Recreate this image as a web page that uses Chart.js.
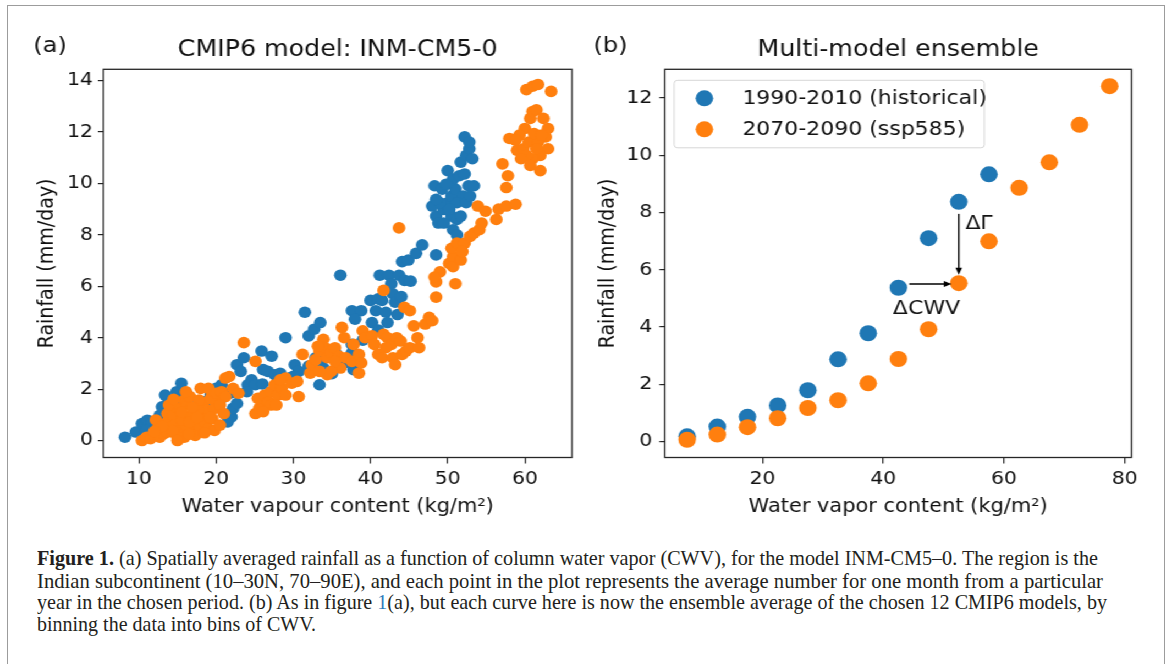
<!DOCTYPE html>
<html>
<head>
<meta charset="utf-8">
<script src="https://cdn.jsdelivr.net/npm/chart.js@4.4.0/dist/chart.umd.min.js"></script>
<style>
  html, body { margin: 0; padding: 0; background: #fff; }
  body { width: 1171px; height: 664px; position: relative; overflow: hidden; }
  #frame { position: absolute; left: 7px; top: 5px; width: 1158px; height: 690px;
           border: 1.5px solid #9c9c9c; box-sizing: border-box; }
  /* the original figure is a little wider than tall, so stretch both panels */
  #stretch { position: absolute; left: 0; top: 0; width: 1064px; height: 530px;
             transform: scaleX(1.1); transform-origin: 0 0; }
  .panel { position: absolute; top: 0; width: 532px; height: 530px; }
  #panelA { left: 0; }
  #panelB { left: 532px; }
  .cap { position: absolute; left: 37px; font-family: "Liberation Serif", serif; font-size: 21px;
         line-height: 21px; white-space: nowrap; color: #231f20; transform-origin: 0 0; }
  .lnk { color: #2b7bbb; }
</style>
</head>
<body>
<div id="frame"></div>
<div id="stretch">
  <div class="panel" id="panelA"><canvas id="chartA"></canvas></div>
  <div class="panel" id="panelB"><canvas id="chartB"></canvas></div>
</div>
<div class="cap" style="top:548.4px" data-end="1098"><b>Figure 1.</b> (a) Spatially averaged rainfall as a function of column water vapor (CWV), for the model INM-CM5–0. The region is the</div>
<div class="cap" style="top:570.7px" data-end="1103">Indian subcontinent (10–30N, 70–90E), and each point in the plot represents the average number for one month from a particular</div>
<div class="cap" style="top:592.4px" data-end="1107">year in the chosen period. (b) As in figure <span class="lnk">1</span>(a), but each curve here is now the ensemble average of the chosen 12 CMIP6 models, by</div>
<div class="cap" style="top:614.1px" data-end="316">binning the data into bins of CWV.</div>

<script>
// Panel (a): INM-CM5-0 monthly points [CWV, rainfall]
const histMonthly = [
  [8.2,0.13],[9.6,0.33],[10.4,0.66],[11.1,0.79],[11.7,0.72],[11.0,0.39],[12.4,0.59],[12.7,0.98],
  [13.0,1.31],[13.4,1.77],[13.7,1.44],[14.1,1.18],[14.9,1.90],[15.5,2.23],[15.9,1.84],[16.3,1.77],
  [14.9,1.38],[14.4,0.72],[17.6,1.38],[18.5,1.51],[19.3,1.77],[20.0,2.03],[20.7,2.17],[21.5,0.72],
  [22.0,0.92],[22.2,1.25],[22.7,1.44],[21.8,1.84],[22.7,2.95],[23.6,3.22],[23.2,2.69],[24.1,2.17],
  [24.6,2.36],[25.1,2.17],[25.9,3.48],[26.1,2.76],[26.7,2.69],[27.2,3.28],[27.6,2.56],[28.3,2.62],
  [29.0,4.00],[29.5,2.43],[30.2,2.95],[30.7,2.69],[31.5,4.99],[32.0,4.07],[32.7,4.33],[33.5,4.59],
  [33.4,2.17],[32.9,3.22],[33.9,2.82],[36.1,6.43],[37.6,3.74],[37.6,3.41],[37.8,2.76],[37.6,5.05],
  [38.8,5.05],[38.0,4.72],[40.0,5.45],[41.0,5.51],[40.2,4.59],[40.7,5.05],[41.2,6.43],[42.4,6.43],
  [43.7,6.43],[44.4,6.23],[42.0,4.99],[42.2,4.59],[42.9,5.71],[43.2,5.38],[42.7,6.10],[41.5,5.45],
  [44.1,6.96],[44.9,7.02],[45.9,7.28],[46.7,7.61],[48.5,7.22],[48.3,9.91],[48.0,9.12],[48.5,8.73],
  [48.8,8.46],[49.5,8.99],[50.0,9.25],[50.5,9.51],[51.0,9.78],[50.0,10.5],[50.7,10.17],[51.5,10.30],
  [52.2,10.37],[52.7,9.91],[53.4,9.91],[52.0,9.51],[51.2,9.25],[50.5,8.73],[51.2,8.60],[49.3,9.78],
  [49.8,9.97],[49.0,9.25],[50.2,8.99],[51.7,8.73],[52.4,9.25],[52.9,9.51],[50.7,8.2],[49.5,8.46],
  [48.5,9.38],[51.2,8.00],[51.7,10.83],[52.4,11.09],[52.8,11.35],[52.2,11.81],[52.8,11.61],[53.2,10.96],
  [13.0,0.3],[14.0,0.5],[15.2,0.9],[16.0,0.6],[17.0,0.8],[18.0,1.0],[19.0,1.2],[20.3,1.5],
  [21.0,1.7],[24.0,1.9],[26.0,2.2],[28.0,2.3],[30.0,2.5],[32.0,2.9],[34.0,3.2],[35.5,3.4],
  [39.0,3.9],[41.0,4.3],[43.5,4.9],[44.0,5.6],[45.2,6.2],[35.0,2.6],[36.5,3.0]
];
const sspMonthly = [
  [10.4,0.0],[11.0,0.13],[11.5,0.07],[12.0,0.2],[12.7,0.13],[13.2,0.26],[13.7,0.33],[12.4,0.46],
  [13.4,0.66],[13.9,0.85],[13.7,1.05],[14.4,0.98],[14.6,0.59],[14.9,0.2],[15.4,0.39],[15.9,0.13],
  [16.1,0.59],[15.6,0.79],[15.1,1.25],[15.9,1.57],[16.3,1.38],[16.8,0.98],[17.1,0.39],[17.3,0.2],
  [17.8,0.59],[18.0,0.98],[18.3,1.38],[18.8,1.18],[18.5,0.72],[19.0,0.46],[19.5,0.85],[19.8,1.25],
  [20.2,1.64],[19.3,1.64],[18.0,2.03],[19.0,2.03],[20.0,1.84],[20.7,1.90],[21.2,2.43],[21.7,2.49],
  [22.2,2.03],[22.9,1.84],[21.2,1.71],[20.5,1.38],[21.0,1.05],[19.8,0.39],[13.9,1.38],[14.4,0.39],
  [16.6,0.72],[17.6,1.18],[16.6,1.71],[16.1,1.90],[17.8,1.57],[23.6,3.81],[25.1,3.08],
  [12.2,0.8],[13.0,0.55],[15.0,0.0],[16.5,0.25],[17.5,0.9],[18.5,0.3],[19.2,0.9],[20.5,0.6],
  [14.5,1.6],[16.9,1.3],[15.5,1.1],[12.0,0.35],
  [25.1,1.05],[25.6,1.25],[25.9,1.51],[25.4,1.64],[26.3,1.77],[26.8,1.51],[27.1,1.9],[27.6,2.17],
  [28.0,1.77],[28.5,2.03],[29.0,2.43],[29.8,2.23],[30.5,2.30],[30.7,1.71],[27.1,1.38],[26.1,1.12],
  [27.8,1.38],[29.0,1.77],[28.3,2.36],[31.2,3.35],
  [32.2,2.62],[32.4,2.95],[32.9,3.15],[33.4,3.48],[33.9,3.94],[34.1,3.61],[34.4,3.22],[34.9,3.41],
  [35.4,3.61],[35.9,3.28],[36.3,4.40],[36.6,4.0],[36.1,2.82],[34.9,2.69],[34.4,2.56],[33.4,2.69],
  [36.8,3.22],[37.6,3.08],[38.5,3.35],[38.5,2.62],[38.8,3.02],[39.0,4.27],[39.3,4.0],[37.8,3.74],
  [35.4,3.08],[33.2,3.67],
  [40.2,4.07],[40.5,3.74],[41.0,3.35],[41.5,3.22],[41.7,4.13],[42.2,4.0],[42.7,3.74],[42.9,3.22],
  [43.2,2.95],[43.4,4.0],[43.9,3.87],[44.1,3.35],[44.6,3.48],[45.1,3.61],[44.4,5.18],[45.1,5.05],
  [45.6,4.46],[46.1,4.0],[46.3,3.61],[47.1,4.53],[47.6,4.79],[48.0,4.66],[41.7,5.84],[43.7,8.27],
  [42.0,3.61],
  [48.5,5.58],[48.5,6.17],[49.0,6.56],[48.3,6.36],[50.2,6.89],[50.7,7.15],[50.5,7.48],[51.2,7.68],
  [51.0,6.10],[50.7,6.76],[51.7,7.02],[52.2,7.68],[52.9,7.94],[53.4,8.07],[54.1,8.20],[54.4,8.46],
  [53.9,9.12],[54.9,8.92],[51.9,7.35],[56.3,8.6],[56.6,9.0],[57.6,9.12],[58.8,9.19],
  [57.1,10.76],[57.8,10.3],[57.6,9.84],[58.0,11.75],[59.0,11.29],[59.8,11.35],[60.0,12.14],[60.7,12.53],
  [61.0,12.8],[61.5,12.86],[60.2,13.65],[61.0,13.78],[61.7,13.85],[63.4,13.58],[62.4,12.53],[62.7,11.81],
  [63.0,11.35],[62.0,11.09],[61.0,10.96],[60.2,11.09],[59.5,10.96],[60.7,10.70],[62.0,10.50],[60.5,11.61],
  [61.7,11.61],[61.2,11.94],[59.3,11.88],[63.0,12.14],[58.8,11.68],[62.2,11.88],[61.5,11.35]
];

// Panel (b): multi-model ensemble, binned by CWV
const histBins = [7.5, 12.5, 17.5, 22.5, 27.5, 32.5, 37.5, 42.5, 47.5, 52.5, 57.5];
const histRain = [0.18, 0.52, 0.86, 1.26, 1.79, 2.87, 3.78, 5.37, 7.10, 8.37, 9.33];
const sspBins = [7.5, 12.5, 17.5, 22.5, 27.5, 32.5, 37.5, 42.5, 47.5, 52.5, 57.5, 62.5, 67.5, 72.5, 77.5];
const sspRain = [0.06, 0.24, 0.50, 0.81, 1.17, 1.44, 2.03, 2.88, 3.92, 5.53, 6.99, 8.86, 9.75, 11.06, 12.41];

const seriesLabels = ['1990-2010 (historical)', '2070-2090 (ssp585)'];
const BLUE = '#1f77b4';
const ORANGE = '#ff7f0e';

// arrows and labels in panel (b), data units
const gammaArrow = { x: 52.5, from: 7.95, to: 5.82 };
const cwvArrow = { y: 5.5, from: 44.3, to: 51.3 };
const gammaLabel = { x: 53.6, y: 7.6, text: 'ΔΓ' };
const cwvLabel = { x: 41.6, y: 4.63, text: 'ΔCWV' };

const FONT = 'DejaVu Sans';
const INK = '#111';

// box around plot, panel letter, optional legend + arrows
const decor = {
  id: 'decor',
  afterDatasetsDraw(chart, args, opts) {
    const ctx = chart.ctx;
    const a = chart.chartArea;
    const xs = chart.scales.x, ys = chart.scales.y;
    ctx.save();

    if (opts.arrows) {
      ctx.strokeStyle = '#000';
      ctx.fillStyle = '#000';
      ctx.lineWidth = 1.4;
      const gx = xs.getPixelForValue(gammaArrow.x);
      const g1 = ys.getPixelForValue(gammaArrow.from), g2 = ys.getPixelForValue(gammaArrow.to);
      ctx.beginPath(); ctx.moveTo(gx, g1); ctx.lineTo(gx, g2 - 6); ctx.stroke();
      ctx.beginPath(); ctx.moveTo(gx, g2); ctx.lineTo(gx - 3, g2 - 7); ctx.lineTo(gx + 3, g2 - 7); ctx.closePath(); ctx.fill();
      const cy = ys.getPixelForValue(cwvArrow.y);
      const c1 = xs.getPixelForValue(cwvArrow.from), c2 = xs.getPixelForValue(cwvArrow.to);
      ctx.beginPath(); ctx.moveTo(c1, cy); ctx.lineTo(c2 - 6, cy); ctx.stroke();
      ctx.beginPath(); ctx.moveTo(c2, cy); ctx.lineTo(c2 - 7, cy - 3); ctx.lineTo(c2 - 7, cy + 3); ctx.closePath(); ctx.fill();
      ctx.font = '20px "' + FONT + '"';
      ctx.fillStyle = INK;
      ctx.textBaseline = 'middle';
      ctx.textAlign = 'left';
      [gammaLabel, cwvLabel].forEach(l => {
        ctx.fillText(l.text, xs.getPixelForValue(l.x), ys.getPixelForValue(l.y));
      });
    }

    if (opts.legend) {
      const lx = a.left + 8.5, ly = a.top + 11, lw = 282, lh = 67.5;
      ctx.beginPath();
      ctx.roundRect(lx, ly, lw, lh, 3);
      ctx.fillStyle = 'rgba(255,255,255,0.8)';
      ctx.fill();
      ctx.strokeStyle = '#d6d6d6';
      ctx.lineWidth = 1;
      ctx.stroke();
      const rows = [a.top + 29, a.top + 60];
      chart.data.datasets.forEach((ds, i) => {
        ctx.beginPath();
        ctx.arc(a.left + 36, rows[i], 8, 0, Math.PI * 2);
        ctx.fillStyle = ds.backgroundColor;
        ctx.fill();
        ctx.fillStyle = INK;
        ctx.font = '20px "' + FONT + '"';
        ctx.textBaseline = 'middle';
        ctx.textAlign = 'left';
        ctx.fillText(ds.label, a.left + 70.5, rows[i]);
      });
    }

    ctx.strokeStyle = '#262626';
    ctx.lineWidth = 1.3;
    ctx.strokeRect(a.left, a.top, a.right - a.left, a.bottom - a.top);

    ctx.fillStyle = INK;
    ctx.font = '22px "' + FONT + '"';
    ctx.textBaseline = 'alphabetic';
    ctx.textAlign = 'left';
    ctx.fillText(opts.letter, opts.letterX, 51.7);
    ctx.restore();
  }
};

function makeChart(id, cfg) {
  return new Chart(document.getElementById(id), {
    type: 'scatter',
    data: {
      datasets: [
        { label: seriesLabels[0], data: cfg.hist, backgroundColor: BLUE, borderWidth: 0,
          pointRadius: cfg.r, pointHoverRadius: cfg.r, order: 2 },
        { label: seriesLabels[1], data: cfg.ssp, backgroundColor: ORANGE, borderWidth: 0,
          pointRadius: cfg.r, pointHoverRadius: cfg.r, order: 1 }
      ]
    },
    options: {
      responsive: true,
      maintainAspectRatio: false,
      animation: false,
      layout: { padding: { top: 36.2, left: 0, right: cfg.padRight, bottom: 0 } },
      plugins: {
        legend: { display: false },
        tooltip: { enabled: false },
        title: {
          display: true, text: cfg.title, fullSize: false, color: INK,
          font: { family: FONT, size: 23, weight: 'normal' },
          padding: { top: 0, bottom: 5.5 }
        },
        decor: { letter: cfg.letter, letterX: cfg.letterX, legend: cfg.legend, arrows: cfg.arrows }
      },
      scales: {
        x: {
          type: 'linear', min: cfg.xMin, max: cfg.xMax,
          border: { display: false },
          grid: { drawOnChartArea: false, drawTicks: true, tickLength: 6, color: '#262626', lineWidth: 1.2 },
          ticks: { stepSize: cfg.xStep, includeBounds: false, padding: 5, maxRotation: 0,
                   color: INK, font: { family: FONT, size: 18.5 } },
          title: { display: true, text: cfg.xTitle, color: INK, font: { family: FONT, size: 19 },
                   padding: { top: 0, bottom: 12 } },
          afterFit(scale) { scale.height = 72.5; }
        },
        y: {
          type: 'linear', min: cfg.yMin, max: cfg.yMax,
          border: { display: false },
          grid: { drawOnChartArea: false, drawTicks: true, tickLength: 5, color: '#262626', lineWidth: 1.2 },
          ticks: { stepSize: 2, includeBounds: false, padding: cfg.yTickPad,
                   color: INK, font: { family: FONT, size: 18.5 } },
          title: { display: true, text: 'Rainfall (mm/day)', color: INK, font: { family: FONT, size: 19 },
                   padding: { top: cfg.yTitlePad, bottom: 0 } },
          afterFit(scale) { scale.width = cfg.yWidth; }
        }
      }
    },
    plugins: [decor]
  });
}

makeChart('chartA', {
  hist: histMonthly.map(p => ({ x: p[0], y: p[1] })),
  ssp: sspMonthly.map(p => ({ x: p[0], y: p[1] })),
  r: 5.8, title: 'CMIP6 model: INM-CM5-0', letter: '(a)', letterX: 30.2,
  xMin: 5.4, xMax: 66.1, xStep: 10, yMin: -0.66, yMax: 14.44,
  xTitle: 'Water vapour content (kg/m²)', yWidth: 94, padRight: 12, yTickPad: 4.5, yTitlePad: 31.4,
  legend: false, arrows: false
});

makeChart('chartB', {
  hist: histBins.map((x, i) => ({ x: x, y: histRain[i] })),
  ssp: sspBins.map((x, i) => ({ x: x, y: sspRain[i] })),
  r: 8, title: 'Multi-model ensemble', letter: '(b)', letterX: 7.4,
  xMin: 3.8, xMax: 81.1, xStep: 20, yMin: -0.56, yMax: 13.0,
  xTitle: 'Water vapor content (kg/m²)', yWidth: 72.4, padRight: 35.4, yTickPad: 6.4, yTitlePad: 9.6,
  legend: true, arrows: true
});

// fit each caption line to the width it has in the printed figure
document.querySelectorAll('.cap').forEach(el => {
  const w = el.getBoundingClientRect().width;
  const target = parseFloat(el.dataset.end) - 37;
  el.style.transform = 'scaleX(' + (target / w) + ')';
});
</script>
</body>
</html>
